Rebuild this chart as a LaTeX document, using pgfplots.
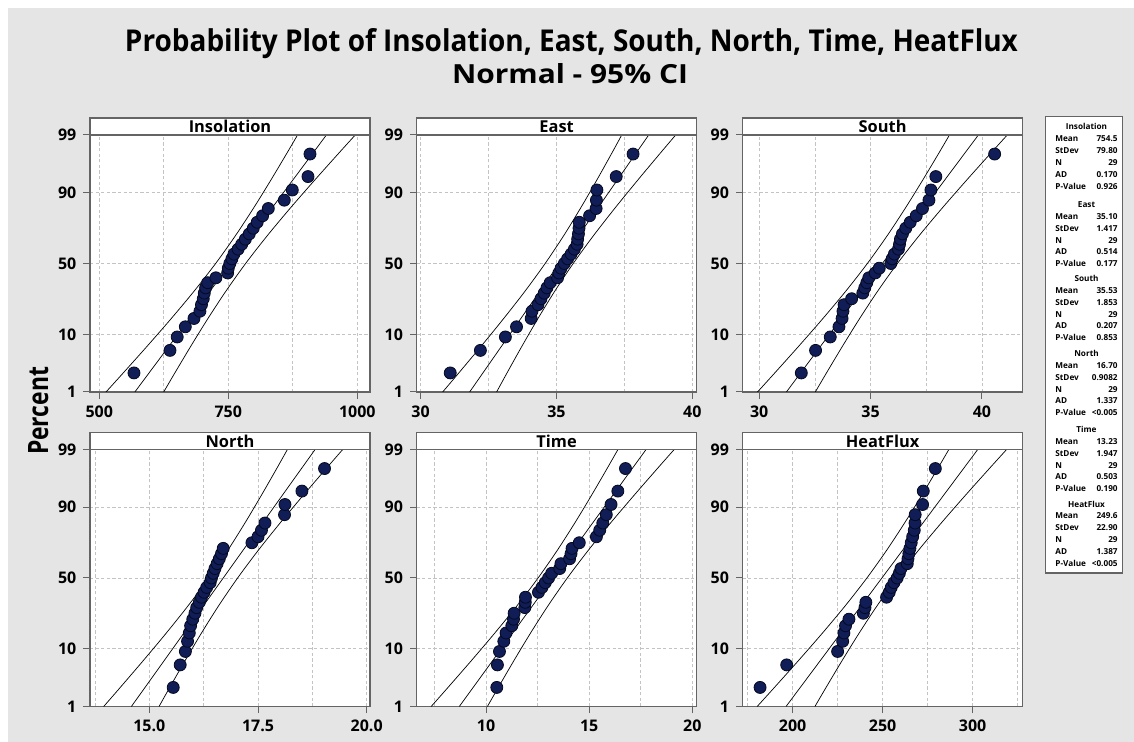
\documentclass[border=0pt]{standalone}
\usepackage{fontspec}
\setmainfont{Open Sans}
\usepackage{graphicx}
\usepackage{pgfplots}
\usepackage{pgfplotstable}
\pgfplotsset{compat=1.18}

\definecolor{bggray}{RGB}{229,229,229}
\definecolor{framegray}{RGB}{100,100,100}
\definecolor{gridgray}{RGB}{195,195,195}
\definecolor{dotfill}{RGB}{16,29,86}
\definecolor{dotedge}{RGB}{5,9,32}

% normal scores of the plotting positions (i-0.3)/(n+0.4), n=29, and ordered values
\pgfplotstableread{
z      ins    east   south  north  time   heat
-1.981 567.2  31.09  31.89  15.55  10.52  181.9
-1.573 637.0  32.20  32.53  15.71  10.55  196.7
-1.330 651.0  33.12  33.19  15.83  10.65  225.0
-1.146 666.7  33.53  33.58  15.88  10.86  227.8
-0.995 683.5  34.07  33.72  15.92  10.97  228.5
-0.864 695.0  34.10  33.76  15.95  11.25  229.4
-0.746 698.0  34.32  33.81  16.00  11.33  231.3
-0.638 701.5  34.43  34.15  16.05  11.36  239.3
-0.536 703.5  34.55  34.65  16.09  11.88  240.2
-0.440 706.0  34.65  34.74  16.15  11.90  240.7
-0.348 710.0  34.77  34.83  16.20  11.91  252.2
-0.259 726.0  35.04  34.92  16.26  12.54  253.7
-0.171 748.7  35.09  35.21  16.32  12.71  254.8
-0.085 750.0  35.17  35.39  16.40  12.87  256.3
 0.000 753.0  35.29  35.91  16.43  13.03  258.1
 0.085 757.0  35.41  35.97  16.47  13.18  259.3
 0.171 761.0  35.54  36.07  16.51  13.57  260.2
 0.259 769.0  35.66  36.25  16.56  13.63  263.7
 0.348 776.0  35.76  36.30  16.61  14.05  264.1
 0.440 783.0  35.78  36.34  16.66  14.12  264.6
 0.536 790.7  35.81  36.43  16.70  14.17  265.2
 0.638 798.4  35.83  36.58  17.36  14.52  265.9
 0.746 806.0  35.84  36.78  17.50  15.35  266.7
 0.864 816.5  36.22  37.05  17.58  15.51  267.6
 0.995 827.5  36.46  37.33  17.66  15.66  268.0
 1.146 858.5  36.47  37.62  18.11  15.83  268.1
 1.330 874.0  36.49  37.71  18.12  16.06  272.2
 1.573 904.4  37.20  37.93  18.51  16.39  272.6
 1.981 908.3  37.82  40.57  19.03  16.76  279.3
}\pts

% 95% confidence bands (lower / upper)
\pgfplotstableread{
z      insL   insH   eastL  eastH  southL southH northL northH timeL  timeH  heatL  heatH
-2.326 512.98 624.79 30.811 32.797 29.922 32.518 13.951 15.224  7.337 10.065 180.29 212.38
-2.000 544.59 645.21 31.373 33.159 30.656 32.992 14.311 15.456  8.109 10.563 189.36 218.24
-1.500 592.46 677.14 32.223 33.726 31.767 33.734 14.856 15.820  9.277 11.343 203.10 227.40
-1.000 639.13 710.27 33.051 34.315 32.851 34.503 15.387 16.197 10.415 12.151 216.49 236.91
-0.500 683.79 745.41 33.845 34.939 33.888 35.319 15.895 16.597 11.505 13.008 229.31 246.99
 0.000 725.46 783.54 34.584 35.616 34.856 36.204 16.370 17.031 12.521 13.939 241.27 257.94
 0.500 763.59 825.21 35.262 36.356 35.741 37.172 16.804 17.505 13.452 14.955 252.21 269.89
 1.000 798.73 869.87 35.885 37.149 36.557 38.209 17.203 18.013 14.309 16.045 262.29 282.71
 1.500 831.86 916.54 36.474 37.977 37.326 39.293 17.580 18.544 15.118 17.184 271.80 296.10
 2.000 863.79 964.41 37.041 38.827 38.068 40.404 17.944 19.089 15.897 18.351 280.96 309.84
 2.326 884.21 996.02 37.403 39.389 38.542 41.138 18.176 19.449 16.395 19.123 286.82 318.91
}\ci

\pgfplotsset{
  ppanel/.style={
    at={#1}, anchor=south west,
    scale only axis, width=140pt, height=128.5pt,
    ymin=-2.326, ymax=2.326,
    ytick={-2.326,-1.2816,0,1.2816,2.326},
    yticklabels={1,10,50,90,99},
    tick pos=left, tick align=outside,
    major tick length=3.3pt, minor tick length=0pt,
    grid=both,
    major grid style={gridgray, dash pattern=on 1.6pt off 1.2pt, line width=0.4pt},
    minor grid style={gridgray, dash pattern=on 1.6pt off 1.2pt, line width=0.4pt},
    axis line style={framegray, line width=0.6pt},
    tick style={framegray, line width=0.5pt},
    ticklabel style={font=\fontsize{8}{9}\selectfont\bfseries},
    axis background/.style={fill=white},
  },
  dots/.style={only marks, mark=*, mark size=3pt,
    mark options={fill=dotfill, draw=dotedge, line width=0.4pt}},
  band/.style={black, line width=0.35pt, smooth, no marks},
  fitl/.style={black, line width=0.35pt, no marks},
}

\tikzset{
  lgt/.style={font=\fontsize{4.1}{5}\selectfont\bfseries, inner sep=0pt},
  lgl/.style={font=\fontsize{4.1}{5}\selectfont\bfseries, inner sep=0pt, anchor=west},
  lgv/.style={font=\fontsize{4.1}{5}\selectfont\bfseries, inner sep=0pt, anchor=east},
}
\newcommand\statgroup[7]{%
  \node[lgt] at (1086.5,#1) {#2};
  \node[lgl] at (1055,#1+12) {Mean};    \node[lgv] at (1118,#1+12) {#3};
  \node[lgl] at (1055,#1+23.9) {StDev}; \node[lgv] at (1118,#1+23.9) {#4};
  \node[lgl] at (1055,#1+35.8) {N};     \node[lgv] at (1118,#1+35.8) {#5};
  \node[lgl] at (1055,#1+47.7) {AD};    \node[lgv] at (1118,#1+47.7) {#6};
  \node[lgl] at (1055,#1+59.6) {P-Value}; \node[lgv] at (1118,#1+59.6) {#7};
}

\begin{document}
\begin{tikzpicture}
\useasboundingbox (0,0) rectangle (567pt,371pt);
\fill[white] (0,0) rectangle (567pt,371pt);
\fill[bggray] (4pt,0) rectangle (567pt,367pt);

% Insolation
\begin{axis}[ppanel={(45pt,175pt)}, xmin=481.98, xmax=1024.6,
  xtick={500,750,1000}, xticklabels={500,750,1000}, minor xtick={625,875}]
  \addplot[band] table[x=insL, y=z] {\ci};
  \addplot[band] table[x=insH, y=z] {\ci};
  \addplot[fitl] coordinates {(568.89,-2.326) (940.11,2.326)};
  \addplot[dots] table[x=ins, y=z] {\pts};
\end{axis}

% East
\begin{axis}[ppanel={(208.3pt,175pt)}, xmin=29.852, xmax=40.159,
  xtick={30,35,40}, xticklabels={30,35,40}, minor xtick={32.5,37.5}]
  \addplot[band] table[x=eastL, y=z] {\ci};
  \addplot[band] table[x=eastH, y=z] {\ci};
  \addplot[fitl] coordinates {(31.804,-2.326) (38.396,2.326)};
  \addplot[dots] table[x=east, y=z] {\pts};
\end{axis}

% South
\begin{axis}[ppanel={(371.3pt,175pt)}, xmin=29.254, xmax=41.826,
  xtick={30,35,40}, xticklabels={30,35,40}, minor xtick={32.5,37.5}]
  \addplot[band] table[x=southL, y=z] {\ci};
  \addplot[band] table[x=southH, y=z] {\ci};
  \addplot[fitl] coordinates {(31.220,-2.326) (39.840,2.326)};
  \addplot[dots] table[x=south, y=z] {\pts};
\end{axis}

% North
\begin{axis}[ppanel={(45pt,17.75pt)}, xmin=13.636, xmax=20.076,
  xtick={15,17.5,20}, xticklabels={15.0,17.5,20.0}, minor xtick={13.75,16.25,18.75}]
  \addplot[band] table[x=northL, y=z] {\ci};
  \addplot[band] table[x=northH, y=z] {\ci};
  \addplot[fitl] coordinates {(14.588,-2.326) (18.813,2.326)};
  \addplot[dots] table[x=north, y=z] {\pts};
\end{axis}

% Time
\begin{axis}[ppanel={(208.3pt,17.75pt)}, xmin=6.631, xmax=20.209,
  xtick={10,15,20}, xticklabels={10,15,20}, minor xtick={7.5,12.5,17.5}]
  \addplot[band] table[x=timeL, y=z] {\ci};
  \addplot[band] table[x=timeH, y=z] {\ci};
  \addplot[fitl] coordinates {(8.701,-2.326) (17.759,2.326)};
  \addplot[dots] table[x=time, y=z] {\pts};
\end{axis}

% HeatFlux
\begin{axis}[ppanel={(371.3pt,17.75pt)}, xmin=172.2, xmax=327.8,
  xtick={200,250,300}, xticklabels={200,250,300}, minor xtick={175,225,275,325}]
  \addplot[band] table[x=heatL, y=z] {\ci};
  \addplot[band] table[x=heatH, y=z] {\ci};
  \addplot[fitl] coordinates {(196.34,-2.326) (302.87,2.326)};
  \addplot[dots] table[x=heat, y=z] {\pts};
\end{axis}

% overlay in image pixel units (y downwards)
\begin{scope}[x=0.5pt, y=-0.5pt, yshift=371pt]
  \foreach \px/\py/\name in {90/118/Insolation, 416.6/118/East, 742.6/118/South,
                             90/432.5/North, 416.6/432.5/Time, 742.6/432.5/HeatFlux} {
    \draw[framegray, line width=0.6pt, fill=white] (\px,\py) rectangle ++(280,17);
    \node[font=\fontsize{8.2}{9}\selectfont\bfseries, inner sep=0pt] at (\px+140,\py+8.7) {\name};
  }
  \node[anchor=base, inner sep=0pt] at (571.5,52)
    {\resizebox{446.5pt}{11.5pt}{\bfseries Probability Plot of Insolation, East, South, North, Time, HeatFlux}};
  \node[anchor=base, inner sep=0pt] at (570,84)
    {\resizebox{118pt}{10pt}{\bfseries Normal - 95\% CI}};
  \node[anchor=base, rotate=90, inner sep=0pt] at (48,411)
    {\resizebox{44pt}{10pt}{\bfseries Percent}};

  \draw[framegray, line width=0.6pt, fill=white] (1045.5,116.7) rectangle (1122.5,573);
  \statgroup{126.7}{Insolation}{754.5}{79.80}{29}{0.170}{0.926}
  \statgroup{204.3}{East}{35.10}{1.417}{29}{0.514}{0.177}
  \statgroup{278.3}{South}{35.53}{1.853}{29}{0.207}{0.853}
  \statgroup{353.3}{North}{16.70}{0.9082}{29}{1.337}{<0.005}
  \statgroup{429.3}{Time}{13.23}{1.947}{29}{0.503}{0.190}
  \statgroup{504.0}{HeatFlux}{249.6}{22.90}{29}{1.387}{<0.005}
\end{scope}
\end{tikzpicture}
\end{document}
